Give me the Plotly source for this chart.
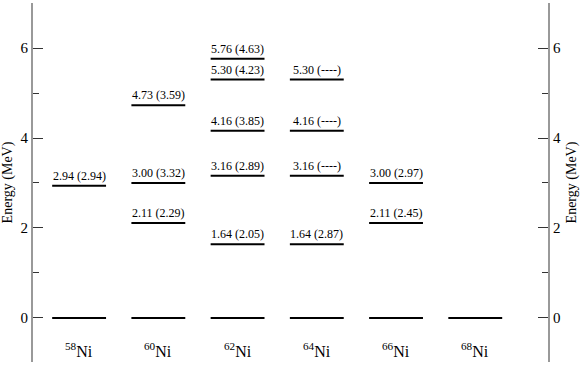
import plotly.graph_objects as go

isotopes = ["58", "60", "62", "64", "66", "68"]
# level energies (exp) and labels (calc in parentheses)
levels = [
    [0.0, 2.94],
    [0.0, 2.11, 3.00, 4.73],
    [0.0, 1.64, 3.16, 4.16, 5.30, 5.76],
    [0.0, 1.64, 3.16, 4.16, 5.30],
    [0.0, 2.11, 3.00],
    [0.0],
]
calc = [
    [None, "2.94"],
    [None, "2.29", "3.32", "3.59"],
    [None, "2.05", "2.89", "3.85", "4.23", "4.63"],
    [None, "2.87", "----", "----", "----"],
    [None, "2.45", "2.97"],
    [None],
]
ytick_vals = [0, 2, 4, 6]

HALF = 0.34
FONT = "Liberation Serif"

xs, ys = [], []
for i, lv in enumerate(levels):
    c = i + 1
    for e in lv:
        xs += [c - HALF, c + HALF, None]
        ys += [e, e, None]

fig = go.Figure()
fig.add_trace(go.Scatter(x=xs, y=ys, mode="lines", line=dict(color="black", width=2),
                         hoverinfo="skip", showlegend=False))
# invisible trace for the right axis
fig.add_trace(go.Scatter(x=[1], y=[0], yaxis="y2", mode="markers",
                         marker=dict(opacity=0), hoverinfo="skip", showlegend=False))

annotations = []
for i, (lv, cl) in enumerate(zip(levels, calc)):
    c = i + 1
    for e, t in zip(lv, cl):
        if t is None:
            continue
        annotations.append(dict(x=c, y=e, xref="x", yref="y", text=f"{e:.2f} ({t})",
                                showarrow=False, yanchor="bottom", yshift=1,
                                font=dict(family=FONT, size=12, color="black")))
    annotations.append(dict(x=c, y=-0.72, xref="x", yref="y",
                            text=f"<sup>{isotopes[i]}</sup>Ni", showarrow=False,
                            font=dict(family=FONT, size=16, color="black")))

yr = [-0.978, 7.0]
axis_common = dict(range=yr, tickvals=ytick_vals, ticks="inside", ticklen=10, tickwidth=1,
                   tickcolor="#333", showline=True, linecolor="#999", linewidth=2,
                   showgrid=False, zeroline=False,
                   tickfont=dict(family=FONT, size=15, color="black"),
                   minor=dict(tickvals=[1, 3, 5], ticks="inside", ticklen=6, tickcolor="#333"))

fig.update_layout(
    width=581, height=367,
    margin=dict(l=33, r=33, t=3, b=5),
    paper_bgcolor="white", plot_bgcolor="white",
    font=dict(family=FONT, color="black"),
    xaxis=dict(range=[0.418, 6.918], showgrid=False, zeroline=False, showticklabels=False,
               ticks="", showline=False),
    yaxis=dict(**axis_common, side="left",
               title=dict(text="Energy (MeV)", standoff=6,
                          font=dict(family=FONT, size=14, color="black"))),
    yaxis2=dict(**axis_common, side="right", overlaying="y",
                title=dict(text="Energy (MeV)", standoff=6,
                           font=dict(family=FONT, size=14, color="black"))),
    annotations=annotations,
)

fig.write_html("out.html", config={"displayModeBar": False},
               post_script="document.body.style.margin='0px';")
